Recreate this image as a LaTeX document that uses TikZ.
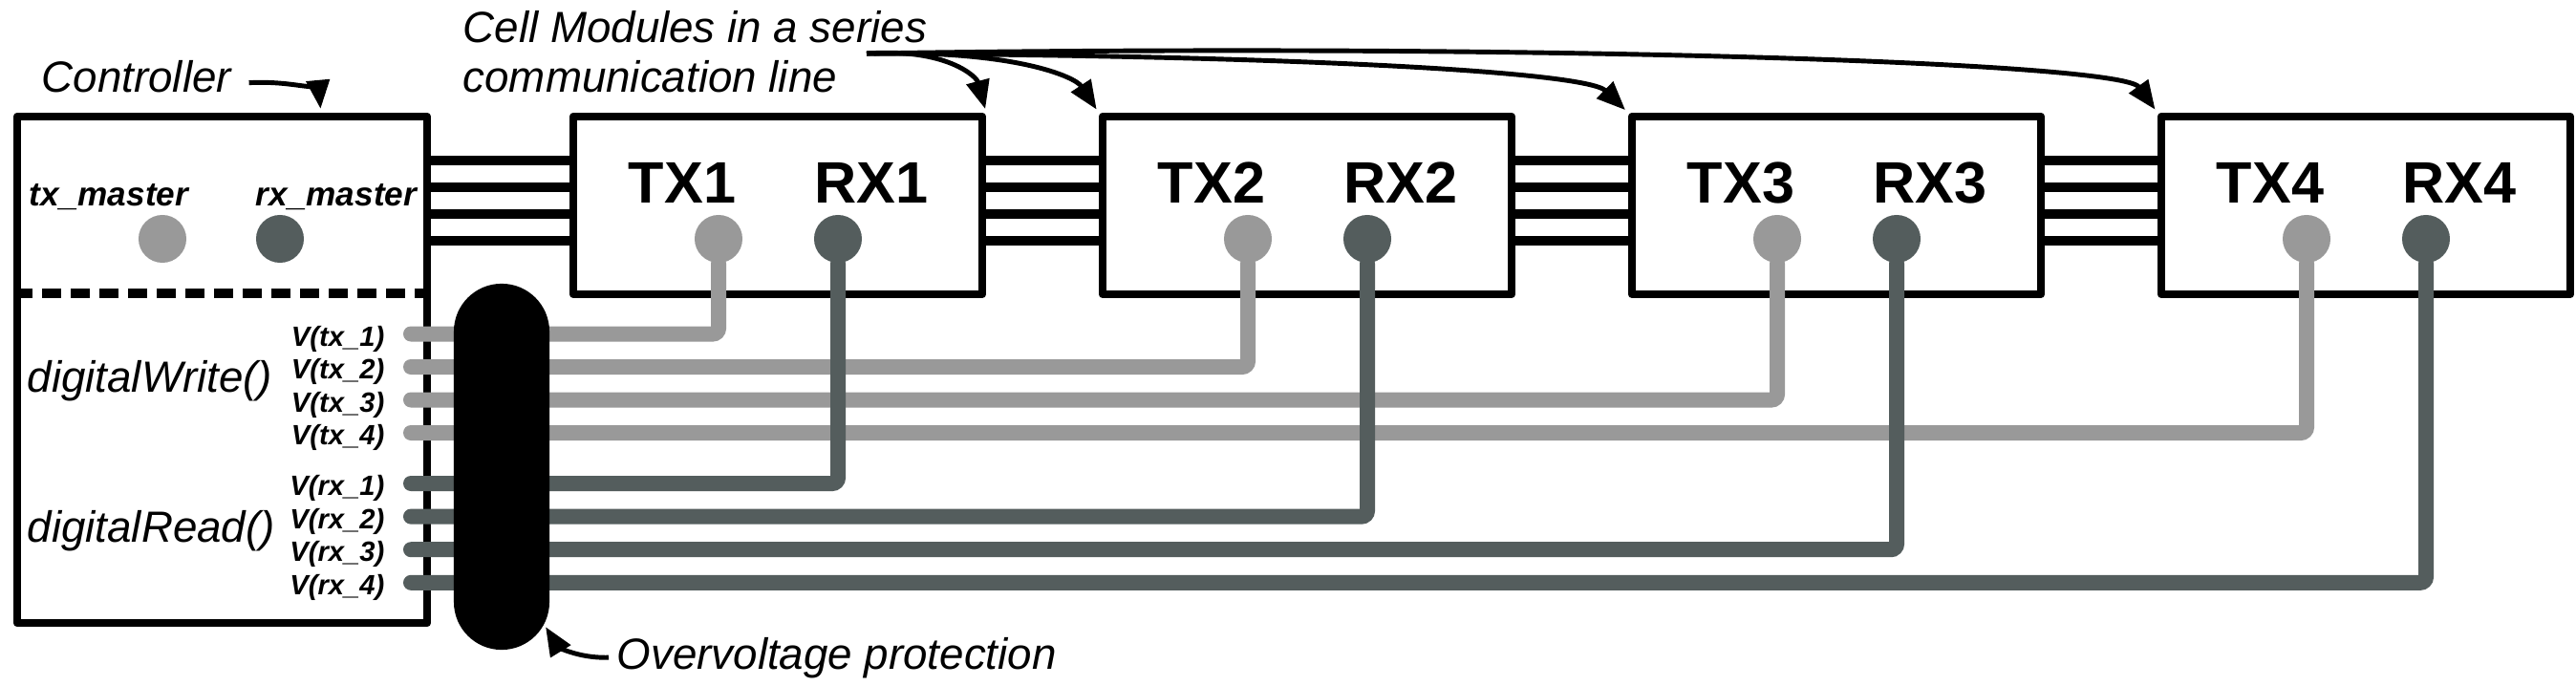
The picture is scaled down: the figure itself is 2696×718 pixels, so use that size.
\documentclass[tikz,border=0pt]{standalone}
\usepackage{fontspec}
\setmainfont{Liberation Sans}
\usetikzlibrary{arrows.meta,calc}
\definecolor{txgray}{RGB}{153,153,153}
\definecolor{rxgray}{RGB}{84,93,93}
\begin{document}
\begin{tikzpicture}[
  x=0.01cm, y=-0.01cm,
  box/.style={draw, line width=2.3pt, line join=round, minimum width=4.28cm, minimum height=1.86cm, inner sep=0pt},
  bus/.style={line width=2.85pt},
  txdot/.style={circle, fill=txgray, minimum size=0.5cm, inner sep=0pt},
  rxdot/.style={circle, fill=rxgray, minimum size=0.5cm, inner sep=0pt},
  txwire/.style={draw=txgray, line width=4.55pt, line cap=round, rounded corners=0.06cm},
  rxwire/.style={draw=rxgray, line width=4.55pt, line cap=round, rounded corners=0.06cm},
  pinlabel/.style={font=\fontsize{17.4pt}{20pt}\selectfont\bfseries, inner sep=0pt, anchor=base},
  master/.style={font=\fontsize{10pt}{11pt}\selectfont\bfseries\itshape, inner sep=0pt, anchor=base},
  sig/.style={font=\fontsize{8.3pt}{9pt}\selectfont\bfseries\itshape, inner sep=0pt, anchor=east},
  note/.style={font=\fontsize{13pt}{14.8pt}\selectfont\itshape, inner sep=0pt, anchor=base west},
  pointer/.style={line width=1.4pt, shorten >=0.04cm, -{Triangle[length=0.3cm, width=0.24cm]}}
]
\path[use as bounding box, fill=white] (0,0) rectangle (2696,718);

\node[box, minimum width=4.29cm, minimum height=5.3cm] (ctrl) at (232.5,387) {};
\draw[line width=2.85pt, dash pattern=on 0.2cm off 0.1cm] (ctrl.west |- 0,307) -- (ctrl.east |- 0,307);
\node[master] (txmlbl) at (114,215) {tx\_master};
\node[master] (rxmlbl) at (352,215) {rx\_master};
\node[txdot] (txm) at (170,250) {};
\node[rxdot] (rxm) at (293,250) {};
\node[note] (dwrite) at (28,410) {digitalWrite()};
\node[note] (dread) at (28,567) {digitalRead()};

\foreach \i in {1,...,4}{
  \pgfmathsetmacro{\L}{600+554*(\i-1)}
  \node[box] (m\i) at (\L+214,215) {};
  \node[pinlabel] (txl\i) at (\L+114,212) {TX\i};
  \node[pinlabel] (rxl\i) at (\L+312,212) {RX\i};
  \node[txdot] (tx\i) at (\L+152,250) {};
  \node[rxdot] (rx\i) at (\L+277,250) {};
}

\foreach \a/\b in {ctrl/m1, m1/m2, m2/m3, m3/m4}
  \foreach \y in {168,196,224,252}
    \draw[bus] (\a.east |- 0,\y) -- (\b.west |- 0,\y);

\foreach \i in {1,...,4}{
  \pgfmathsetmacro{\ty}{349.5+34.5*(\i-1)}
  \coordinate (vtx\i) at (430,\ty);
  \node[sig] (ltx\i) at (403,\ty+5) {V(tx\_\i)};
  \draw[txwire] (vtx\i) -| (tx\i);
}
\foreach \i in {1,...,4}{
  \pgfmathsetmacro{\ry}{506+34.6*(\i-1)}
  \coordinate (vrx\i) at (430,\ry);
  \node[sig] (lrx\i) at (403,\ry+5) {V(rx\_\i)};
  \draw[rxwire] (vrx\i) -| (rx\i);
}

\node[fill=black, minimum width=1cm, minimum height=3.83cm, rounded corners=0.5cm, inner sep=0pt] (ovp) at (525,488.5) {};

\node[note] (ctrlnote) at (43,97) {Controller};
\draw[pointer] ($(ctrlnote.east)+(18,6)$) .. controls (310,84) and (334,98) .. ($(ctrl.north west)+(322,0)$);

\node[note, align=left] (cmnote) at (484,97) {Cell Modules in a series\\communication line};
\coordinate (cmfork) at (907,56);
\draw[pointer] (cmfork) .. controls (990,50) and (1022,80) .. (m1.north east);
\draw[pointer] (cmfork) .. controls (1060,52) and (1125,80) .. (m2.north west);
\draw[pointer] (cmfork) .. controls (1350,58) and (1660,75) .. (m3.north west);
\draw[pointer] (cmfork) .. controls (1600,45) and (2220,65) .. (m4.north west);

\node[note] (ovpnote) at (645,700) {Overvoltage protection};
\draw[pointer] ($(ovpnote.west)+(-8,0)$) .. controls (600,689) and (582,674) .. ($(ovp.south)+(44,-28)$);
\end{tikzpicture}
\end{document}
